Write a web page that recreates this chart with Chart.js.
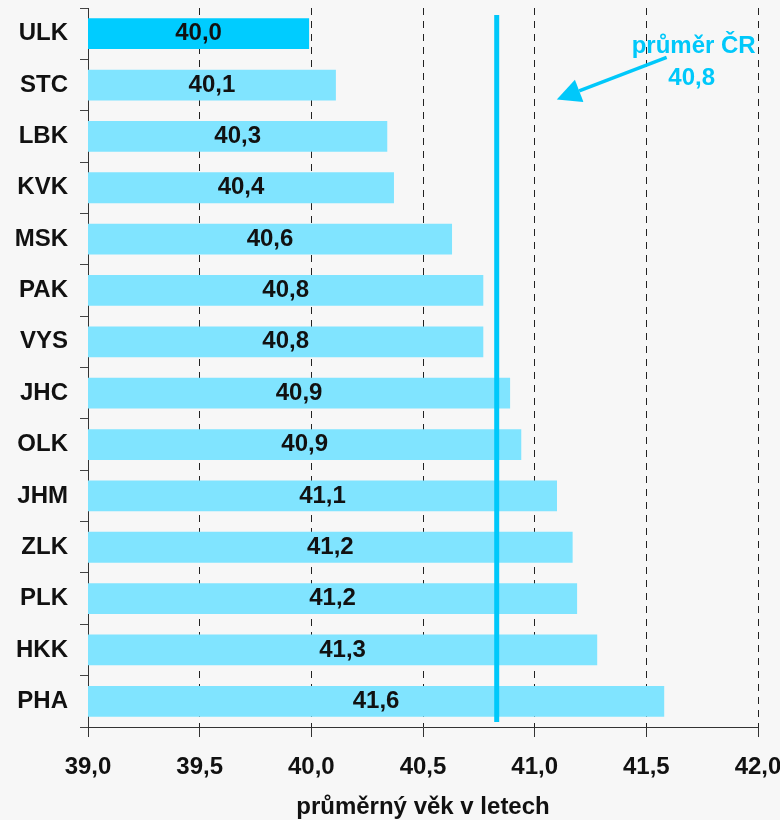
<!DOCTYPE html>
<html>
<head>
<meta charset="utf-8">
<script src="https://cdn.jsdelivr.net/npm/chart.js@4.4.1/dist/chart.umd.min.js"></script>
<style>
  html, body { margin: 0; padding: 0; background: #f7f7f7; }
  #wrap { width: 780px; height: 820px; position: relative; }
</style>
</head>
<body>
<div id="wrap"><canvas id="c" width="780" height="820"></canvas></div>
<script>
// ---- data ----
const categories = ['ULK','STC','LBK','KVK','MSK','PAK','VYS','JHC','OLK','JHM','ZLK','PLK','HKK','PHA'];
const values = [39.99, 40.11, 40.34, 40.37, 40.63, 40.77, 40.77, 40.89, 40.94, 41.10, 41.17, 41.19, 41.28, 41.58];
const highlighted = ['ULK'];
const nationalMean = 40.83;
const xTicks = [39.0, 39.5, 40.0, 40.5, 41.0, 41.5, 42.0];
const axisTitle = 'průměrný věk v letech';
const meanLabel = ['průměr ČR', '40,8'];

// ---- styles ----
const FONT = '"Liberation Sans", Arial, sans-serif';
const LIGHT = '#80E4FF';
const STRONG = '#00CCFF';
const ACCENT = '#00C8FA';
const fmt = v => v.toFixed(1).replace('.', ',');

// annotation anchored in scale coordinates (x value, y category index)
const annot = {
  text1: { x: 41.712, y: 0.243 },
  text2: { x: 41.703, y: 0.867 },
  arrowFrom: { x: 41.591, y: 0.463 },
  arrowTo: { x: 41.099, y: 1.281 }
};

const overlay = {
  id: 'overlay',
  afterDatasetsDraw(chart) {
    const { ctx, chartArea, scales: { x, y } } = chart;
    // national mean line
    const mx = x.getPixelForValue(nationalMean);
    ctx.save();
    ctx.strokeStyle = ACCENT;
    ctx.lineWidth = 5;
    ctx.beginPath();
    ctx.moveTo(mx, chartArea.top + 7);
    ctx.lineTo(mx, chartArea.bottom - 5);
    ctx.stroke();

    // bar value labels (centred in each bar)
    ctx.font = 'bold 24px ' + FONT;
    ctx.fillStyle = '#111111';
    ctx.textAlign = 'center';
    ctx.textBaseline = 'middle';
    const x0 = x.getPixelForValue(x.min);
    values.forEach((v, i) => {
      const cx = (x.getPixelForValue(v) + x0) / 2;
      const cy = y.getPixelForValue(i);
      ctx.fillText(fmt(v), cx, cy);
    });

    // annotation text
    ctx.fillStyle = ACCENT;
    ctx.fillText(meanLabel[0], x.getPixelForValue(annot.text1.x), y.getPixelForValue(annot.text1.y));
    ctx.fillText(meanLabel[1], x.getPixelForValue(annot.text2.x), y.getPixelForValue(annot.text2.y));

    // arrow
    const x1 = x.getPixelForValue(annot.arrowFrom.x), y1 = y.getPixelForValue(annot.arrowFrom.y);
    const x2 = x.getPixelForValue(annot.arrowTo.x), y2 = y.getPixelForValue(annot.arrowTo.y);
    const ang = Math.atan2(y2 - y1, x2 - x1);
    const headLen = 24, headHalf = 12;
    const bx = x2 - headLen * Math.cos(ang), by = y2 - headLen * Math.sin(ang);
    ctx.strokeStyle = ACCENT;
    ctx.lineWidth = 3.5;
    ctx.beginPath();
    ctx.moveTo(x1, y1);
    ctx.lineTo(bx, by);
    ctx.stroke();
    ctx.beginPath();
    ctx.moveTo(x2, y2);
    ctx.lineTo(bx + headHalf * Math.sin(ang), by - headHalf * Math.cos(ang));
    ctx.lineTo(bx - headHalf * Math.sin(ang), by + headHalf * Math.cos(ang));
    ctx.closePath();
    ctx.fill();
    ctx.restore();
  }
};

const bgPlugin = {
  id: 'bg',
  beforeDraw(chart) {
    const { ctx } = chart;
    ctx.save();
    ctx.fillStyle = '#f7f7f7';
    ctx.fillRect(0, 0, chart.width, chart.height);
    ctx.restore();
  }
};

const zeroPad = s => { s.paddingTop = 0; s.paddingBottom = 0; s.paddingLeft = 0; s.paddingRight = 0; };

new Chart(document.getElementById('c'), {
  type: 'bar',
  data: {
    labels: categories,
    datasets: [{
      data: values,
      backgroundColor: categories.map(c => highlighted.includes(c) ? STRONG : LIGHT),
      borderWidth: 0,
      barPercentage: 0.6,
      categoryPercentage: 1.0
    }]
  },
  options: {
    indexAxis: 'y',
    responsive: false,
    animation: false,
    devicePixelRatio: 1,
    layout: { padding: { top: 8, right: 22, left: 0, bottom: 0 } },
    plugins: { legend: { display: false }, tooltip: { enabled: false } },
    scales: {
      x: {
        type: 'linear',
        min: 39,
        max: 42,
        afterBuildTicks: s => { s.ticks = xTicks.map(v => ({ value: v })); },
        afterFit: s => { s.height = 93; zeroPad(s); },
        ticks: {
          callback: v => fmt(v),
          font: { family: FONT, size: 24, weight: 'bold' },
          color: '#111',
          padding: 16,
          maxRotation: 0,
          autoSkip: false
        },
        grid: {
          color: c => c.index === 0 ? 'rgba(0,0,0,0)' : '#222',
          lineWidth: 1,
          tickLength: 10,
          tickColor: '#333',
          drawTicks: true
        },
        border: { display: true, color: '#333', width: 1, dash: [7, 6] },
        title: {
          display: true,
          text: axisTitle,
          font: { family: FONT, size: 24, weight: 'bold' },
          color: '#111',
          padding: { top: 0, bottom: -2 }
        }
      },
      y: {
        type: 'category',
        afterFit: s => { s.width = 88; zeroPad(s); },
        ticks: {
          font: { family: FONT, size: 24, weight: 'bold' },
          color: '#111',
          padding: 12
        },
        grid: {
          drawOnChartArea: false,
          drawTicks: true,
          tickLength: 8,
          color: '#444',
          offset: true
        },
        border: { display: true, color: '#333', width: 1 }
      }
    }
  },
  plugins: [bgPlugin, overlay]
});
</script>
</body>
</html>
